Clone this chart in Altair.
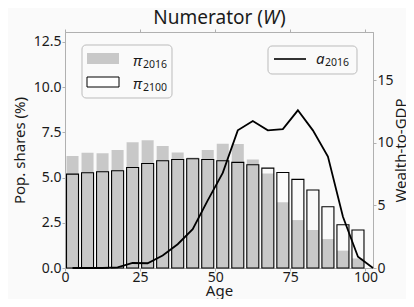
import altair as alt
import pandas as pd

# ---- data ----
ages = [0, 5, 10, 15, 20, 25, 30, 35, 40, 45, 50, 55, 60, 65, 70, 75, 80, 85, 90, 95]
pi2016 = [6.19, 6.37, 6.34, 6.52, 6.96, 7.07, 6.74, 6.39, 6.11, 6.52, 6.87, 6.85,
          6.00, 5.23, 3.63, 2.65, 2.10, 1.60, 0.96, 0.53]
pi2100 = [5.19, 5.27, 5.32, 5.38, 5.56, 5.78, 5.93, 6.00, 6.04, 6.00, 5.93, 5.84,
          5.71, 5.52, 5.28, 4.90, 4.31, 3.39, 2.39, 2.10]
line_ages = [2.5, 7.5, 12.5, 17.5, 22.5, 27.5, 32.5, 37.5, 42.5, 47.5, 52.5, 57.5,
             62.5, 67.5, 72.5, 77.5, 82.5, 87.5, 92.5, 97.5, 102.5]
a2016 = [0.0, 0.0, 0.0, 0.05, 0.4, 0.38, 1.0, 1.9, 3.1, 5.4, 7.6, 11.0,
         11.75, 11.0, 11.1, 12.6, 11.0, 8.9, 4.1, 0.9, 0.0]
x_ticks = [0, 25, 50, 75, 100]
left_ticks = [0.0, 2.5, 5.0, 7.5, 10.0, 12.5]
right_ticks = [0, 5, 10, 15]

FONT = "Noto Sans"
GREY = "#c8c8c8"
SPINE = "#b0b0b0"
BG = "#fafafa"

bars = pd.DataFrame({"age": ages, "pi2016": pi2016, "pi2100": pi2100})
bars["x1"] = bars["age"] + 0.5
bars["x2"] = bars["age"] + 4.5
line = pd.DataFrame({"la": line_ages, "a": a2016})

xscale = alt.Scale(domain=[0, 102.5], nice=False, zero=False)
yL = alt.Scale(domain=[0, 13.05], nice=False)
yR = alt.Scale(domain=[0, 18.86], nice=False)

x_axis = alt.Axis(values=x_ticks, title="Age", labelFlush=False, format="d",
                  labelPadding=-1, titleX=154, titleY=27.5, titleAlign="center",
                  titleBaseline="alphabetic")
yL_axis = alt.Axis(values=left_ticks, format=".1f", title="Pop. shares (%)", orient="left",
                   labelPadding=1, titleX=-41, titleY=118, titleAngle=270,
                   titleAlign="center", titleBaseline="alphabetic")
yR_axis = alt.Axis(values=right_ticks, format="d", title="Wealth-to-GDP", orient="right",
                   labelPadding=1, titleX=32, titleY=118, titleAngle=270,
                   titleAlign="center", titleBaseline="alphabetic")

gray = alt.Chart(bars).mark_rect(color=GREY).encode(
    x=alt.X("x1:Q", scale=xscale, axis=x_axis),
    x2="x2:Q",
    y=alt.Y("pi2016:Q", scale=yL, axis=yL_axis),
    y2=alt.datum(0),
)
outline = alt.Chart(bars).mark_rect(fill="white", fillOpacity=0, stroke="black", strokeWidth=1.1).encode(
    x=alt.X("x1:Q", scale=xscale),
    x2="x2:Q",
    y=alt.Y("pi2100:Q", scale=yL),
    y2=alt.datum(0),
)
bar_layer = alt.layer(gray, outline)

line_layer = alt.Chart(line).mark_line(color="black", strokeWidth=1.8).encode(
    x=alt.X("la:Q", scale=xscale, axis=None),
    y=alt.Y("a:Q", scale=yR, axis=yR_axis),
)

top_axis = alt.Chart(bars).mark_point(opacity=0).encode(
    x=alt.X("x1:Q", scale=xscale,
            axis=alt.Axis(orient="top", values=x_ticks, labels=False, title=None, domain=True)),
    y=alt.Y("pi2016:Q", scale=yL, axis=None),
)

one = pd.DataFrame({"k": [0]})


def txt(s, x, y, size, italic=False, align="left", baseline="alphabetic"):
    kw = dict(align=align, baseline=baseline, fontSize=size, font=FONT, color="#1a1a1a")
    if italic:
        kw["fontStyle"] = "italic"
    return alt.Chart(one).mark_text(**kw).encode(
        x=alt.value(x), y=alt.value(y), text=alt.value(s))


def box(x, x2, y, y2, **kw):
    return alt.Chart(one).mark_rect(**kw).encode(
        x=alt.value(x), x2=alt.value(x2), y=alt.value(y), y2=alt.value(y2))


deco = [
    # title
    txt("Numerator (", 198, -8, 19, align="right"),
    txt("W", 198, -8, 19, italic=True),
    txt(")", 215, -8, 19),
    # legend 1
    box(17, 107, 13, 66, fill=BG, stroke="#bbbbbb", strokeWidth=1, cornerRadius=4),
    box(22, 54, 21, 32, fill=GREY),
    box(22, 54, 45, 55, fill="white", stroke="black", strokeWidth=1),
    txt("π", 68, 34, 15, italic=True),
    txt("2016", 78, 36, 10.5),
    txt("π", 68, 57, 15, italic=True),
    txt("2100", 78, 59, 10.5),
    # legend 2
    box(203, 292, 14, 42, fill=BG, stroke="#bbbbbb", strokeWidth=1, cornerRadius=4),
    alt.Chart(one).mark_rule(color="black", strokeWidth=1.6).encode(
        x=alt.value(209), x2=alt.value(241), y=alt.value(27)),
    txt("a", 251, 32, 15, italic=True),
    txt("2016", 260, 34.4, 10.5),
]

chart = alt.layer(bar_layer, line_layer, top_axis, *deco).resolve_scale(
    y="independent"
).resolve_axis(x="independent").properties(
    width=308, height=236,
    autosize=alt.AutoSizeParams(type="none"),
    padding={"left": 57, "top": 24, "right": 33, "bottom": 31},
    background=BG,
).configure_view(stroke=SPINE).configure_axis(
    grid=False,
    labelFont=FONT, labelFontSize=14, labelColor="#1a1a1a",
    titleFont=FONT, titleFontSize=15, titleFontWeight="normal", titleColor="#1a1a1a",
    domainColor=SPINE, tickColor=SPINE, tickSize=3,
)

chart.save("out.html", embed_options={"renderer": "svg", "actions": False})
